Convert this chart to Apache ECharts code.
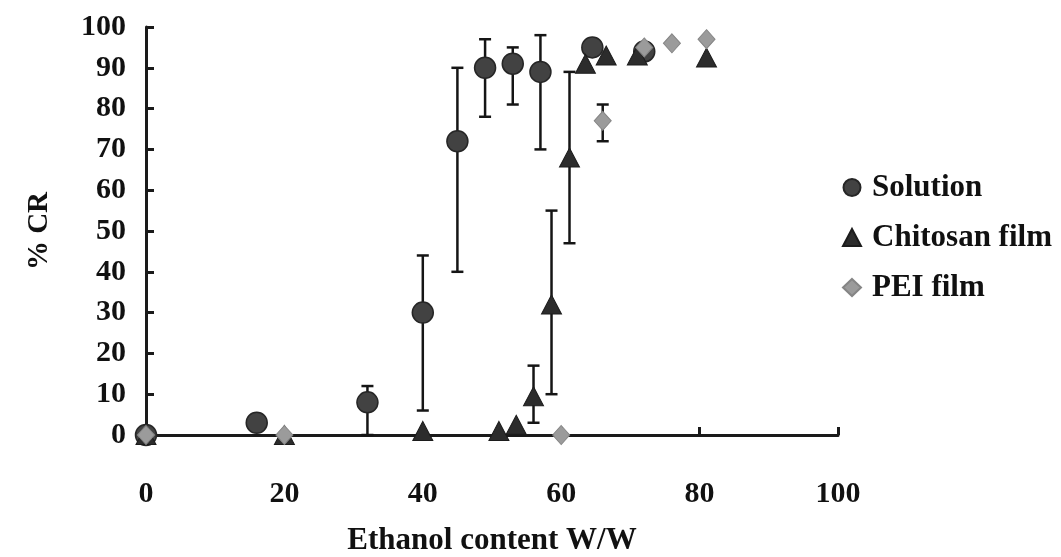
<!DOCTYPE html>
<html>
<head>
<meta charset="utf-8">
<script src="https://cdn.jsdelivr.net/npm/echarts@6/dist/echarts.min.js"></script>
<style>
html,body{margin:0;padding:0;background:#fff;}
#chart{width:1061px;height:557px;}
</style>
</head>
<body>
<div id="chart"></div>
<script>
// ---- data ----
var seriesNames = ['Solution', 'Chitosan film', 'PEI film'];

var solutionX    = [0, 16, 32, 40, 45, 49, 53, 57, 64.5, 72];
var solutionY    = [0, 3, 8, 30, 72, 90, 91, 89, 95, 94];
var solutionLow  = [null, null, 0, 6, 40, 78, 81, 70, null, null];
var solutionHigh = [null, null, 12, 44, 90, 97, 95, 98, null, null];

var chitosanX    = [0, 20, 40, 51, 53.5, 56, 58.6, 61.2, 63.5, 66.5, 71, 81];
var chitosanY    = [0, 0, 1, 1, 2.5, 9.5, 32, 68, 91, 93, 93, 92.5];
var chitosanLow  = [null, null, null, null, null, 3, 10, 47, null, null, null, null];
var chitosanHigh = [null, null, null, null, null, 17, 55, 89, null, null, null, null];

var peiX    = [0, 20, 60, 66, 72, 76, 81];
var peiY    = [0, 0, 0, 77, 95, 96, 97];
var peiLow  = [null, null, null, 72, null, null, null];
var peiHigh = [null, null, null, 81, null, null, null];

var xTicks = [0, 20, 40, 60, 80, 100];
var yTicks = [0, 10, 20, 30, 40, 50, 60, 70, 80, 90, 100];

// ---- helpers ----
function points(xs, ys) {
  return xs.map(function (x, i) { return [x, ys[i]]; });
}
function bars(xs, lows, highs) {
  var out = [];
  xs.forEach(function (x, i) {
    if (lows[i] !== null && highs[i] !== null) out.push([x, lows[i], highs[i]]);
  });
  return out;
}
function errorSeries(data) {
  return {
    type: 'custom',
    data: data,
    z: 1,
    silent: true,
    encode: { x: 0, y: [1, 2] },
    renderItem: function (params, api) {
      var lo = api.coord([api.value(0), api.value(1)]);
      var hi = api.coord([api.value(0), api.value(2)]);
      var w = 6;
      var st = { stroke: '#151515', lineWidth: 2.5 };
      return {
        type: 'group',
        children: [
          { type: 'line', shape: { x1: hi[0], y1: hi[1], x2: lo[0], y2: lo[1] }, style: st },
          { type: 'line', shape: { x1: hi[0] - w, y1: hi[1], x2: hi[0] + w, y2: hi[1] }, style: st },
          { type: 'line', shape: { x1: lo[0] - w, y1: lo[1], x2: lo[0] + w, y2: lo[1] }, style: st }
        ]
      };
    }
  };
}

var serif = '"Liberation Serif", "Times New Roman", serif';
var chart = echarts.init(document.getElementById('chart'), null, { renderer: 'canvas' });

chart.setOption({
  backgroundColor: '#ffffff',
  animation: false,
  grid: { left: 146, right: 223, top: 27, bottom: 122, containLabel: false, outerBoundsMode: 'none' },
  legend: {
    data: [
      { name: seriesNames[0], icon: 'circle' },
      { name: seriesNames[1], icon: 'triangle' },
      { name: seriesNames[2], icon: 'diamond' }
    ],
    orient: 'vertical',
    left: 837,
    top: 167,
    itemWidth: 18,
    itemHeight: 17,
    itemGap: 19,
    textStyle: { fontFamily: serif, fontWeight: 'bold', fontSize: 31, color: '#111', padding: [0, 0, 0, 6] }
  },
  xAxis: {
    type: 'value',
    min: 0, max: 100, interval: 20,
    name: 'Ethanol content W/W',
    nameLocation: 'middle',
    nameGap: 90,
    nameTextStyle: { fontFamily: serif, fontWeight: 'bold', fontSize: 31, color: '#111' },
    axisLine: { show: true, onZero: false, lineStyle: { color: '#1a1a1a', width: 3 } },
    axisTick: { show: true, inside: true, length: 8, lineStyle: { color: '#1a1a1a', width: 3 } },
    axisLabel: {
      margin: 44, fontFamily: serif, fontWeight: 'bold', fontSize: 30, color: '#111',
      formatter: function (v) { return xTicks.indexOf(v) >= 0 ? String(v) : ''; }
    },
    splitLine: { show: false }
  },
  yAxis: {
    type: 'value',
    min: 0, max: 100, interval: 10,
    name: '% CR',
    nameLocation: 'middle',
    nameGap: 92,
    nameTextStyle: { fontFamily: serif, fontWeight: 'bold', fontSize: 29, color: '#111' },
    axisLine: { show: true, lineStyle: { color: '#1a1a1a', width: 3 } },
    axisTick: { show: true, inside: true, length: 8, lineStyle: { color: '#1a1a1a', width: 3 } },
    axisLabel: {
      margin: 20, fontFamily: serif, fontWeight: 'bold', fontSize: 30, color: '#111',
      formatter: function (v) { return yTicks.indexOf(v) >= 0 ? String(v) : ''; }
    },
    splitLine: { show: false }
  },
  series: [
    errorSeries(bars(solutionX, solutionLow, solutionHigh)),
    errorSeries(bars(chitosanX, chitosanLow, chitosanHigh)),
    errorSeries(bars(peiX, peiLow, peiHigh)),
    {
      name: seriesNames[0],
      type: 'scatter',
      z: 2,
      symbol: 'circle',
      symbolSize: 21,
      data: points(solutionX, solutionY),
      itemStyle: { color: '#424242', borderColor: '#262626', borderWidth: 1.5, opacity: 1 }
    },
    {
      name: seriesNames[1],
      type: 'scatter',
      z: 3,
      symbol: 'triangle',
      symbolSize: [20, 19],
      data: points(chitosanX, chitosanY),
      itemStyle: { color: '#2c2c2c', borderColor: '#1c1c1c', borderWidth: 1, opacity: 1 }
    },
    {
      name: seriesNames[2],
      type: 'scatter',
      z: 4,
      symbol: 'diamond',
      symbolSize: [17, 19],
      data: points(peiX, peiY),
      itemStyle: { color: '#9b9b9b', borderColor: '#858585', borderWidth: 1, opacity: 1 }
    }
  ]
});
</script>
</body>
</html>
